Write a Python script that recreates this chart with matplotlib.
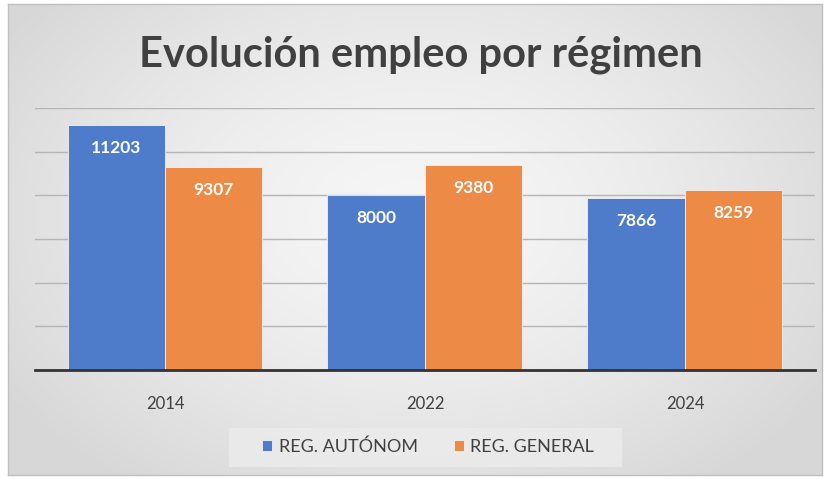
import matplotlib
matplotlib.use("Agg")
import matplotlib.pyplot as plt
import numpy as np
from matplotlib.patches import Rectangle

plt.rcParams["font.family"] = ["Lato", "DejaVu Sans"]

years = ["2014", "2022", "2024"]
autonomo = [11203, 8000, 7866]
general = [9307, 9380, 8259]
series_names = ["REG. AUTÓNOM", "REG. GENERAL"]
colors = ["#4F7BCB", "#EC8A46"]

W, H = 829, 479
fig = plt.figure(figsize=(W / 100, H / 100), dpi=100)
fig.patch.set_facecolor("white")

# radial gradient background inside a frame
bg = fig.add_axes([8 / W, 4 / H, 814 / W, 471 / H])
yy, xx = np.mgrid[0:1:300j, 0:1:500j]
r = np.sqrt(((xx - 0.5) / 0.6) ** 2 + ((yy - 0.45) / 0.7) ** 2)
shade = 0.965 - 0.12 * np.clip(r, 0, 1) ** 1.5
bg.imshow(np.dstack([shade] * 3), aspect="auto", extent=[0, 1, 0, 1])
bg.set_xticks([])
bg.set_yticks([])
for s in bg.spines.values():
    s.set_color("#bfbfbf")
    s.set_linewidth(1.0)

ax = fig.add_axes([35 / W, (H - 370) / H, 780 / W, (370 - 108) / H])
ax.patch.set_alpha(0)
x = np.arange(len(years))
bw = 0.375
b1 = ax.bar(x - bw / 2, autonomo, bw, color=colors[0], label=series_names[0],
            edgecolor="#f2f2f2", linewidth=0.6, zorder=3)
b2 = ax.bar(x + bw / 2, general, bw, color=colors[1], label=series_names[1],
            edgecolor="#f2f2f2", linewidth=0.6, zorder=3)

for bars in (b1, b2):
    for rect in bars:
        h = rect.get_height()
        ax.annotate(f"{int(h)}", (rect.get_x() + rect.get_width() / 2, h),
                    xytext=(0, -16.5), textcoords="offset points",
                    ha="center", va="center", color="white",
                    fontsize=12.5, fontweight="bold", zorder=4)

ax.set_xlim(-0.5, 2.5)
ax.set_ylim(0, 12000)
ax.set_yticks(np.arange(0, 12001, 2000))
ax.yaxis.grid(True, color="#b5b5b5", linewidth=1.0, zorder=0)
ax.tick_params(axis="y", left=False, labelleft=False)
ax.set_xticks(x)
ax.set_xticklabels(years, fontsize=12, color="#404040")
ax.tick_params(axis="x", length=0, pad=19)
for side in ("top", "right", "left"):
    ax.spines[side].set_visible(False)
ax.spines["bottom"].set_color("#333333")
ax.spines["bottom"].set_linewidth(2.0)
ax.spines["bottom"].set_zorder(5)

fig.text(421 / W, (H - 55) / H, "Evolución empleo por régimen", ha="center",
         va="center", fontsize=30, fontweight="bold", color="#404040")

# legend box
fig.patches.append(Rectangle((229 / W, (H - 467) / H), 393 / W, 39 / H,
                             transform=fig.transFigure, facecolor="#ececec",
                             edgecolor="none", alpha=0.8, zorder=1))
leg = fig.legend(handles=[b1, b2], loc="center", bbox_to_anchor=(428 / W, (H - 447) / H),
                 ncol=2, frameon=False, fontsize=13, handlelength=0.55,
                 handleheight=0.55, columnspacing=2.0, handletextpad=0.35)
for t in leg.get_texts():
    t.set_color("#404040")

fig.savefig("out.png", dpi=100)
